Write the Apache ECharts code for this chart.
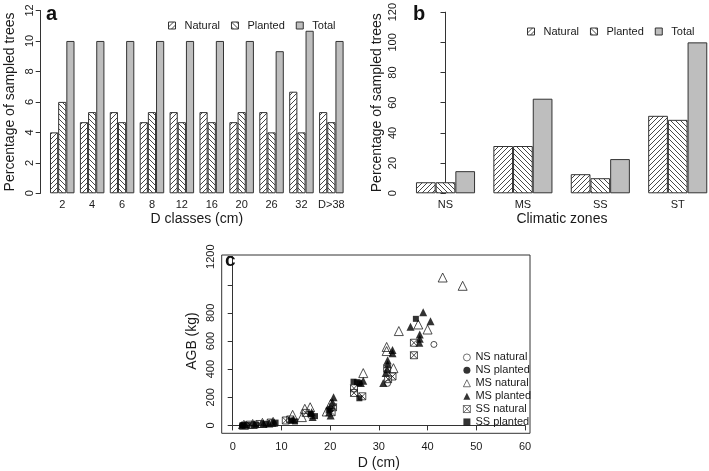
<!DOCTYPE html>
<html><head><meta charset="utf-8">
<script src="https://cdn.jsdelivr.net/npm/echarts@6/dist/echarts.min.js"></script>
<style>html,body{margin:0;padding:0;background:#fff}#c{width:709px;height:471px}</style>
</head><body><div id="c"></div><script>
// ---- data ----
const aCategories = ['2','4','6','8','12','16','20','26','32','D>38'];
const aNatural = [4, 4.67, 5.33, 4.67, 5.33, 5.33, 4.67, 5.33, 6.67, 5.33];
const aPlanted = [6, 5.33, 4.67, 5.33, 4.67, 4.67, 5.33, 4, 4, 4.67];
const aTotal   = [10, 10, 10, 10, 10, 10, 10, 9.33, 10.67, 10];
const aTicks = [0, 2, 4, 6, 8, 10, 12];

const bCategories = ['NS','MS','SS','ST'];
const bNatural = [7.33, 31.33, 12.67, 51.33];
const bPlanted = [7.33, 31.33, 10, 48.67];
const bTotal   = [14.67, 62.67, 22.67, 100];
const bTicks = [0, 20, 40, 60, 80, 100, 120];

const cXTicks = [0, 10, 20, 30, 40, 50, 60];
const cYTicks = [0, 200, 400, 600, 800, 1000, 1200];
const nsNatural = [[41.3,576],[31.8,299],[2.0,2],[4.2,7],[8.0,20],[16.0,70],[20.2,118]];
const nsPlanted = [[2.2,3],[4.0,8],[6.0,15],[1.8,1],[12.2,35],[16.0,75],[8.5,18]];
const msNatural = [[43.1,1052],[47.2,993],[34.1,671],[38.1,718],[40.0,682],[31.6,558],[31.6,529],[33.0,407],[26.8,372],[20.1,153],[19.3,99],[15.9,129],[14.8,118],[14.2,59],[12.3,75],[8.3,25],[6.1,18],[4.1,10],[2.3,4]];
const msPlanted = [[39.1,805],[40.6,741],[36.5,701],[38.4,647],[38.4,616],[38.3,588],[32.8,536],[32.8,513],[31.8,463],[31.8,435],[31.7,400],[31.4,372],[30.9,301],[26.8,318],[26.3,301],[20.7,200],[20.5,165],[20.1,71],[19.8,94],[16.2,94],[16.4,59],[12.5,42],[8.1,18],[7.5,14],[6.3,12],[4.5,8],[2.6,4],[1.9,2]];
const ssNatural = [[37.2,588],[37.2,499],[31.7,407],[32.8,348],[31.9,329],[24.9,264],[24.9,231],[26.6,207],[20.6,129],[20.3,94],[15.0,89],[11.8,42],[10.9,35],[7.8,20],[5.5,10],[3.5,5]];
const ssPlanted = [[37.6,758],[24.8,311],[25.5,308],[26.0,300],[26.0,193],[20.0,118],[19.7,106],[16.0,82],[16.9,66],[12.0,35],[12.8,28],[8.8,20],[6.8,12],[4.8,6],[3.0,3],[2.0,1]];

// ---- styles ----
const FONT = 'Liberation Sans, Arial, Helvetica, sans-serif';
const TXT = '#1a1a1a';
const LINE = '#333';

function hatch(dir) {
  const s = 5;
  const c = document.createElement('canvas');
  c.width = s; c.height = s;
  const g = c.getContext('2d');
  g.fillStyle = '#fff'; g.fillRect(0, 0, s, s);
  g.strokeStyle = '#333'; g.lineWidth = 0.9;
  g.beginPath();
  for (const k of [-s, 0, s]) {
    if (dir === '/') { g.moveTo(k, s); g.lineTo(k + s, 0); }
    else { g.moveTo(k, 0); g.lineTo(k + s, s); }
  }
  g.stroke();
  return { image: c, repeat: 'repeat' };
}
const patNat = hatch('/');
const patPla = hatch('\\');
const GRAY = '#bebebe';

const chart = echarts.init(document.getElementById('c'), null, { renderer: 'canvas' });

function yAxisCommon(o) {
  return Object.assign({
    type: 'value',
    splitLine: { show: false },
    axisLine: { show: true, lineStyle: { color: LINE, width: 1 } },
    axisTick: { show: true, length: 5, lineStyle: { color: LINE } },
    nameLocation: 'middle',
    nameTextStyle: { fontSize: 14, color: TXT, fontFamily: FONT }
  }, o);
}
const barBorder = { borderColor: '#333', borderWidth: 1 };
const legText = { fontSize: 11, color: TXT, fontFamily: FONT, padding: [0, 0, 0, 4] };
const idx = arr => arr.map((v, i) => [i, v]);

const option = {
  animation: false,
  backgroundColor: '#fff',
  textStyle: { fontFamily: FONT },
  title: [
    { text: 'a', left: 46, top: 4, padding: 0, textStyle: { fontSize: 20, fontWeight: 'bold', color: '#111', fontFamily: FONT } },
    { text: 'b', left: 413, top: 4, padding: 0, textStyle: { fontSize: 20, fontWeight: 'bold', color: '#111', fontFamily: FONT } },
    { text: 'c', left: 225, top: 251, padding: 0, textStyle: { fontSize: 19, fontWeight: 'bold', color: '#111', fontFamily: FONT } }
  ],
  legend: [
    { data: ['Natural', 'Planted', 'Total'], left: 168, top: 20, padding: 0, icon: 'rect', itemWidth: 7, itemHeight: 7, itemGap: 11,
      selectedMode: false, itemStyle: { borderWidth: 1, borderColor: '#333' }, textStyle: legText },
    { data: ['Natural', 'Planted', 'Total'], left: 527, top: 26, padding: 0, icon: 'rect', itemWidth: 7, itemHeight: 7, itemGap: 11,
      selectedMode: false, itemStyle: { borderWidth: 1, borderColor: '#333' }, textStyle: legText },
    { data: ['NS natural', 'NS planted', 'MS natural', 'MS planted', 'SS natural', 'SS planted'],
      orient: 'vertical', left: 463, top: 351, padding: 0, itemWidth: 7, itemHeight: 7, itemGap: 0,
      selectedMode: false, itemStyle: { borderWidth: 0.8 },
      textStyle: { fontSize: 11, color: TXT, fontFamily: FONT, lineHeight: 12.9 } }
  ],
  grid: [
    { left: 47.3, width: 299, top: 10.5, height: 182.8 },
    { left: 406.8, right: 0, top: 10.5, height: 182.8 },
    { left: 232.7, width: 292.3, top: 256.7, height: 170 },
    { left: 221.7, width: 308.3, top: 255, height: 178.3, show: true, borderColor: '#333', borderWidth: 1, backgroundColor: 'transparent' }
  ],
  xAxis: [
    { gridIndex: 0, type: 'category', data: aCategories,
      axisLine: { show: false }, axisTick: { show: false },
      axisLabel: { interval: 0, margin: 6, fontSize: 11, color: TXT, fontFamily: FONT },
      name: 'D classes (cm)', nameLocation: 'middle', nameGap: 19,
      nameTextStyle: { fontSize: 14, color: TXT, fontFamily: FONT } },
    { gridIndex: 1, type: 'value', min: -0.5, max: 3.404, splitLine: { show: false },
      axisLine: { show: false }, axisTick: { show: false },
      axisLabel: { customValues: bCategories.map((c, i) => i), formatter: v => bCategories[Math.round(v)] || '',
        margin: 6, fontSize: 11, color: TXT, fontFamily: FONT },
      name: 'Climatic zones', nameLocation: 'middle', nameGap: 19,
      nameTextStyle: { fontSize: 14, color: TXT, fontFamily: FONT, padding: [0, 0, 0, 8] } },
    { gridIndex: 2, type: 'value', min: cXTicks[0], max: cXTicks[cXTicks.length - 1], interval: 10, offset: 6.6,
      splitLine: { show: false },
      axisLine: { show: true, lineStyle: { color: LINE } },
      axisTick: { show: true, length: 5, lineStyle: { color: LINE } },
      axisLabel: { margin: 9, fontSize: 11, color: TXT, fontFamily: FONT },
      name: 'D (cm)', nameLocation: 'middle', nameGap: 24,
      nameTextStyle: { fontSize: 14, color: TXT, fontFamily: FONT } },
    { gridIndex: 3, type: 'value', show: false, min: 0, max: 1 }
  ],
  yAxis: [
    yAxisCommon({ gridIndex: 0, min: aTicks[0], max: aTicks[aTicks.length - 1], interval: 2, offset: 6.6,
      name: 'Percentage of sampled trees', nameGap: 24,
      axisLabel: { rotate: 90, margin: 5, fontSize: 11, color: TXT, fontFamily: FONT } }),
    yAxisCommon({ gridIndex: 1, min: bTicks[0], max: bTicks[bTicks.length - 1], interval: 20, offset: 3.5,
      name: 'Percentage of sampled trees', nameGap: 19,
      axisLabel: { rotate: 90, margin: 4.5, fontSize: 11, color: TXT, fontFamily: FONT } }),
    yAxisCommon({ gridIndex: 2, min: cYTicks[0], max: cYTicks[cYTicks.length - 1], interval: 200, offset: 11,
      name: 'AGB (kg)', nameGap: 23,
      axisLabel: { rotate: 90, margin: 5, fontSize: 11, color: TXT, fontFamily: FONT,
        formatter: v => (v === 1000 ? '' : String(v)) } }),
    { gridIndex: 3, type: 'value', show: false, min: 0, max: 1 }
  ],
  series: [
    { name: 'Natural', type: 'bar', xAxisIndex: 0, yAxisIndex: 0, data: aNatural, barGap: '0%', barCategoryGap: '18%',
      itemStyle: Object.assign({ color: patNat }, barBorder) },
    { name: 'Planted', type: 'bar', xAxisIndex: 0, yAxisIndex: 0, data: aPlanted, barGap: '0%', barCategoryGap: '18%',
      itemStyle: Object.assign({ color: patPla }, barBorder) },
    { name: 'Total', type: 'bar', xAxisIndex: 0, yAxisIndex: 0, data: aTotal, barGap: '0%', barCategoryGap: '18%',
      itemStyle: Object.assign({ color: GRAY }, barBorder) },
    { name: 'Natural', type: 'bar', xAxisIndex: 1, yAxisIndex: 1, data: idx(bNatural), barGap: '0%', barWidth: 19.7, clip: false,
      itemStyle: Object.assign({ color: patNat }, barBorder) },
    { name: 'Planted', type: 'bar', xAxisIndex: 1, yAxisIndex: 1, data: idx(bPlanted), barGap: '0%', barWidth: 19.7, clip: false,
      itemStyle: Object.assign({ color: patPla }, barBorder) },
    { name: 'Total', type: 'bar', xAxisIndex: 1, yAxisIndex: 1, data: idx(bTotal), barGap: '0%', barWidth: 19.7, clip: false,
      itemStyle: Object.assign({ color: GRAY }, barBorder) },

    { name: 'NS natural', type: 'scatter', xAxisIndex: 2, yAxisIndex: 2, data: nsNatural, symbol: 'circle', symbolSize: 6,
      itemStyle: { color: 'rgba(0,0,0,0)', borderColor: '#222', borderWidth: 1 } },
    { name: 'NS planted', type: 'scatter', xAxisIndex: 2, yAxisIndex: 2, data: nsPlanted, symbol: 'circle', symbolSize: 5,
      itemStyle: { color: '#000' } },
    { name: 'MS natural', type: 'scatter', xAxisIndex: 2, yAxisIndex: 2, data: msNatural, symbol: 'triangle', symbolSize: 9,
      itemStyle: { color: 'rgba(0,0,0,0)', borderColor: '#222', borderWidth: 1 } },
    { name: 'MS planted', type: 'scatter', xAxisIndex: 2, yAxisIndex: 2, data: msPlanted, symbol: 'triangle', symbolSize: 8,
      itemStyle: { color: '#000' } },
    { name: 'SS natural', type: 'scatter', xAxisIndex: 2, yAxisIndex: 2, data: ssNatural,
      symbol: 'path://M0,0L10,0L10,10L0,10ZM0,0L10,10M10,0L0,10', symbolSize: 7,
      itemStyle: { color: 'rgba(0,0,0,0)', borderColor: '#222', borderWidth: 1 } },
    { name: 'SS planted', type: 'scatter', xAxisIndex: 2, yAxisIndex: 2, data: ssPlanted, symbol: 'rect', symbolSize: 6,
      itemStyle: { color: '#000' } }
  ]
};
chart.setOption(option);
</script></body></html>
